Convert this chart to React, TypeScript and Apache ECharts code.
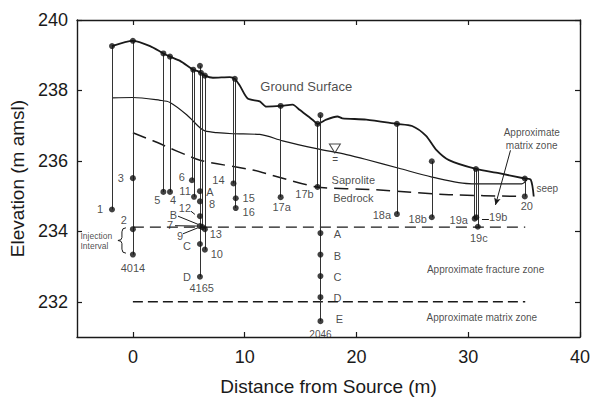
import React, { useEffect, useRef } from "react";
import * as echarts from "echarts";

// Axis ticks
const xTicks = [0, 10, 20, 30, 40];
const yTicks = [232, 234, 236, 238, 240];

// Ground surface profile (distance m, elevation m amsl)
const groundX = [-1.87, 0, 1.54, 2.73, 3.32, 4.22, 5.4, 5.8, 6.09, 6.44, 7.16, 8.67, 9.12, 9.56, 10.27, 11.35, 11.94, 13.22, 14.29, 14.91, 16.07, 16.52, 17.29, 18.3, 18.74, 20.88, 23.62, 24.98, 26.23, 27.12, 28.28, 30.69, 32.74, 35.06, 35.6, 35.86];
const groundY = [239.26, 239.41, 239.26, 239.05, 238.96, 238.84, 238.59, 238.55, 238.5, 238.42, 238.36, 238.38, 238.33, 238.14, 237.77, 237.69, 237.54, 237.56, 237.6, 237.45, 237.17, 237.05, 237.17, 237.26, 237.21, 237.17, 237.05, 236.99, 236.71, 236.32, 236.02, 235.77, 235.65, 235.5, 235.46, 234.99];

// Water table
const waterX = [-1.87, 0, 2.43, 3.32, 4.81, 6.0, 6.44, 7.51, 8.94, 11.35, 13.4, 16.43, 19.1, 20.88, 23.8, 26.76, 30.33, 34.8, 35.24];
const waterY = [237.79, 237.8, 237.72, 237.66, 237.31, 236.94, 236.85, 236.8, 236.77, 236.75, 236.57, 236.35, 236.18, 236.04, 235.79, 235.54, 235.35, 235.35, 235.46];

// Saprolite / bedrock contact
const contactX = [0, 1.8, 6.0, 10.72, 16.43, 21.78, 28.28, 34.8];
const contactY = [236.8, 236.57, 236.02, 235.74, 235.26, 235.18, 235.04, 234.99];

// Zone boundaries: top of fracture zone and top of lower matrix zone
const zoneX = [0, 35.1];
const fractureTopY = 234.12;
const matrixTopY = 232.0;

// Wells: location, top of casing and bottom of the installation
const wellX = [-1.87, 0, 2.73, 3.32, 5.28, 5.47, 6.0, 6.22, 6.44, 9.0, 9.2, 13.22, 16.52, 16.78, 23.62, 26.74, 30.58, 30.72, 30.86, 35.06];
const wellTop = [239.26, 239.41, 239.05, 238.96, 238.62, 238.59, 238.7, 238.5, 238.42, 238.36, 238.33, 237.56, 237.05, 237.3, 237.05, 235.99, 235.77, 235.77, 235.77, 235.5];
const wellBottom = [234.62, 233.34, 235.12, 235.12, 235.45, 234.98, 232.71, 234.15, 233.48, 235.36, 234.66, 234.97, 235.26, 231.45, 234.49, 234.4, 234.36, 234.4, 234.13, 234.99];

// Sampling points and well heads
const pointX = [-1.87, 0, 2.73, 3.32, 5.4, 6.0, 6.09, 6.44, 9.12, 13.22, 16.52, 16.78, 23.62, 26.74, 30.69, 35.06,
  -1.87, 0, 0, 0, 2.73, 3.32, 5.28, 5.47, 6.0, 6.0, 6.0, 6.0, 6.22, 6.44, 6.0, 6.44, 6.0,
  9.0, 9.2, 9.2, 13.22, 16.52, 16.78, 16.78, 16.78, 16.78, 16.78, 23.62, 26.74, 30.58, 30.72, 30.86, 35.06];
const pointY = [239.26, 239.41, 239.05, 238.96, 238.59, 238.7, 238.5, 238.42, 238.33, 237.56, 237.05, 237.3, 237.05, 235.99, 235.77, 235.5,
  234.62, 235.51, 234.06, 233.34, 235.12, 235.12, 235.45, 234.98, 235.14, 234.85, 234.43, 234.15, 234.12, 234.06, 233.64, 233.48, 232.71,
  235.36, 234.94, 234.66, 234.97, 235.26, 233.95, 233.34, 232.73, 232.13, 231.45, 234.49, 234.4, 234.36, 234.4, 234.13, 234.99];
const pointLabel = ["", "", "", "", "", "", "", "", "", "", "", "", "", "", "", "",
  "1", "3", "2", "4014", "5", "4", "6", "11", "A", "8", "12", "", "", "13", "C", "10", "D",
  "14", "15", "16", "17a", "17b", "A", "B", "C", "D", "E", "18a", "18b", "19a", "19b", "19c", "20"];

// Free-standing notes
const noteText = ["Ground Surface", "Saprolite", "Bedrock", "Approximate\nmatrix zone", "seep", "Approximate fracture zone", "Approximate matrix zone", "Injection\nInterval", "B", "7", "9", "4165", "2046", "="];
const noteX = [15.51, 19.72, 19.72, 35.68, 36.1, 31.55, 31.22, -4.69, 3.62, 3.32, 4.22, 6.15, 16.78, 18.1];
const noteY = [238.1, 235.45, 234.94, 236.63, 235.22, 232.92, 231.55, 233.73, 234.47, 234.18, 233.87, 232.4, 231.06, 236.04];

// Water-table marker
const waterMarkX = 18.07;
const waterMarkY = 236.35;

// Leader segments from labels to points, and the arrow to the matrix zone
const leaderFrom = [[4.04, 234.43], [3.77, 234.16], [4.48, 233.93], [5.2, 234.57], [31.23, 234.35]];
const leaderTo = [[5.82, 234.2], [5.82, 234.15], [5.82, 234.1], [5.55, 234.48], [31.85, 234.35]];
const arrowFrom = [33.78, 236.3];
const arrowTo = [32.44, 234.75];

// Injection-interval brace span
const braceX = -0.98;
const braceTop = 234.1;
const braceBottom = 233.38;

const FONT = "'Liberation Sans', Arial, Helvetica, sans-serif";
const INK = "#1a1a1a";

// Pixel offsets of each point label from its point
const labelOffset: Record<number, [number, number]> = {
  16: [-12, 0], 17: [-12, 0], 18: [-9, -9], 19: [0, 13], 20: [-6, 8], 21: [3, 8],
  22: [-10, -3], 23: [-9, -6], 24: [10, 1], 25: [12, 3], 26: [-15, -8], 29: [11, 5],
  30: [-13, 2], 31: [12, 4], 32: [-13, 0], 33: [-15, -3], 34: [13, 0], 35: [13, 4],
  36: [1, 10], 37: [-13, 7], 38: [17, 1], 39: [17, 1], 40: [17, 1], 41: [17, 1],
  42: [19, -2], 43: [-15, 1], 44: [-14, 2], 45: [-16, 1], 46: [22, 0], 47: [1, 11], 48: [2, 10],
};

const noteStyle: Record<number, { fontSize: number; align?: string; lineHeight?: number }> = {
  0: { fontSize: 13 },
  1: { fontSize: 11 },
  2: { fontSize: 11 },
  3: { fontSize: 10, lineHeight: 13 },
  4: { fontSize: 10, align: "left" },
  5: { fontSize: 10 },
  6: { fontSize: 10 },
  7: { fontSize: 8.5, align: "left", lineHeight: 10 },
  8: { fontSize: 11 },
  9: { fontSize: 11 },
  10: { fontSize: 11 },
  11: { fontSize: 11 },
  12: { fontSize: 10 },
  13: { fontSize: 10 },
};

const zip = (xs: number[], ys: number[]) => xs.map((x, i) => [x, ys[i]]);

const plainText = { textBorderWidth: 0, textBorderColor: "transparent", textShadowBlur: 0 };

export default function App() {
  const ref = useRef<HTMLDivElement>(null);

  useEffect(() => {
    if (!ref.current) return;
    const chart = echarts.init(ref.current, undefined, { renderer: "svg" });

    const axisLine = { show: true, onZero: false, lineStyle: { color: INK, width: 1.4 } };
    const tick = { show: true, inside: true, length: 5, lineStyle: { color: INK, width: 1.2 } };

    const option: any = {
      animation: false,
      backgroundColor: "#ffffff",
      grid: { left: 77, right: 14, top: 20, bottom: 58 },
      xAxis: [
        {
          type: "value",
          min: -5,
          max: 40,
          position: "bottom",
          name: "Distance from Source (m)",
          nameLocation: "middle",
          nameGap: 40,
          nameTextStyle: { fontFamily: FONT, fontSize: 19, color: INK },
          axisLine,
          axisTick: { ...tick, customValues: xTicks },
          axisLabel: { customValues: xTicks, fontFamily: FONT, fontSize: 18, color: INK, margin: 11 },
          splitLine: { show: false },
        },
        {
          type: "value",
          min: -5,
          max: 40,
          position: "top",
          axisLine,
          axisTick: { ...tick, customValues: xTicks },
          axisLabel: { show: false },
          splitLine: { show: false },
        },
      ],
      yAxis: [
        {
          type: "value",
          min: 231,
          max: 240,
          position: "left",
          name: "Elevation (m amsl)",
          nameLocation: "middle",
          nameGap: 43,
          nameTextStyle: { fontFamily: FONT, fontSize: 19, color: INK },
          axisLine,
          axisTick: { ...tick, customValues: yTicks },
          axisLabel: { customValues: yTicks, fontFamily: FONT, fontSize: 18, color: INK, margin: 9 },
          splitLine: { show: false },
        },
        {
          type: "value",
          min: 231,
          max: 240,
          position: "right",
          axisLine,
          axisTick: { ...tick, customValues: yTicks },
          axisLabel: { show: false },
          splitLine: { show: false },
        },
      ],
      series: [
        {
          type: "line",
          name: "ground",
          data: zip(groundX, groundY),
          showSymbol: false,
          smooth: 0.25,
          lineStyle: { color: INK, width: 1.8 },
          z: 3,
        },
        {
          type: "line",
          name: "water",
          data: zip(waterX, waterY),
          showSymbol: false,
          smooth: 0.3,
          lineStyle: { color: INK, width: 1.2 },
          z: 3,
        },
        {
          type: "line",
          name: "contact",
          data: zip(contactX, contactY),
          showSymbol: false,
          smooth: 0.2,
          lineStyle: { color: INK, width: 1.5, type: [14, 7] },
          z: 3,
        },
        {
          type: "line",
          name: "fracture",
          data: zoneX.map((x) => [x, fractureTopY]),
          showSymbol: false,
          lineStyle: { color: INK, width: 1.4, type: [11, 6] },
          z: 3,
        },
        {
          type: "line",
          name: "matrix",
          data: zoneX.map((x) => [x, matrixTopY]),
          showSymbol: false,
          lineStyle: { color: INK, width: 1.6, type: [10, 5] },
          z: 3,
        },
        {
          type: "lines",
          coordinateSystem: "cartesian2d",
          name: "wells",
          data: wellX.map((x, i) => ({ coords: [[x, wellTop[i]], [x, wellBottom[i]]] })),
          lineStyle: { color: "#333", width: 1, opacity: 1 },
          z: 4,
        },
        {
          type: "scatter",
          name: "points",
          symbol: "circle",
          symbolSize: 6,
          itemStyle: { color: "#111" },
          data: pointX.map((x, i) => {
            const off = labelOffset[i] || [0, 0];
            return {
              value: [x, pointY[i]],
              label: {
                show: pointLabel[i] !== "",
                formatter: pointLabel[i],
                position: "inside",
                offset: off,
                fontFamily: FONT,
                fontSize: 11,
                color: INK,
                ...plainText,
              },
            };
          }),
          z: 6,
        },
        {
          type: "scatter",
          name: "watermark",
          symbol: "triangle",
          symbolRotate: 180,
          symbolSize: [11, 9],
          itemStyle: { color: "#fff", borderColor: INK, borderWidth: 1 },
          data: [[waterMarkX, waterMarkY]],
          z: 6,
        },
        {
          type: "scatter",
          name: "notes",
          symbolSize: 0,
          itemStyle: { color: "transparent" },
          data: noteX.map((x, i) => {
            const st = noteStyle[i];
            return {
              value: [x, noteY[i]],
              label: {
                show: true,
                formatter: noteText[i],
                position: "inside",
                fontFamily: FONT,
                fontSize: st.fontSize,
                lineHeight: st.lineHeight,
                align: st.align || "center",
                verticalAlign: "middle",
                color: INK,
                ...plainText,
              },
            };
          }),
          markLine: {
            silent: true,
            animation: false,
            label: { show: false },
            lineStyle: { color: INK, width: 1, type: "solid" },
            symbol: ["none", "none"],
            data: [
              ...leaderFrom.map((f, i) => [{ coord: f }, { coord: leaderTo[i] }]),
              [
                { coord: arrowFrom, symbol: "none" },
                { coord: arrowTo, symbol: "arrow", symbolSize: [5, 7] },
              ],
            ],
          },
          z: 7,
        },
        {
          type: "custom",
          name: "brace",
          renderItem: (_params: any, api: any) => {
            const top = api.coord([braceX, braceTop]);
            const bot = api.coord([braceX, braceBottom]);
            const x = top[0];
            const y0 = top[1];
            const y1 = bot[1];
            const ym = (y0 + y1) / 2;
            const d = `M ${x + 4} ${y0} Q ${x} ${y0} ${x} ${y0 + 4} L ${x} ${ym - 3} Q ${x} ${ym} ${x - 4} ${ym} Q ${x} ${ym} ${x} ${ym + 3} L ${x} ${y1 - 4} Q ${x} ${y1} ${x + 4} ${y1}`;
            return {
              type: "path",
              shape: { pathData: d },
              style: { stroke: INK, fill: "none", lineWidth: 1 },
            };
          },
          data: [[braceX, braceTop]],
          z: 7,
        },
      ],
    };

    chart.setOption(option);
    return () => chart.dispose();
  }, []);

  return (
    <div
      ref={ref}
      style={{ position: "fixed", left: 0, top: 0, width: 594, height: 401, background: "#fff" }}
    />
  );
}
